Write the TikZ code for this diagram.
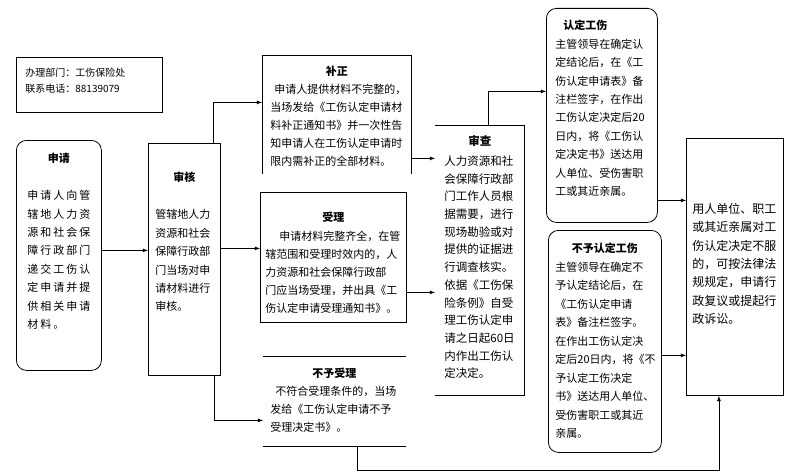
\documentclass[tikz,border=0pt]{standalone}
\usepackage{fontspec}
\usepackage{tikz}
\usetikzlibrary{arrows}
\newfontfamily\cjk{Noto Sans CJK SC}
\newcommand{\boxtext}[4]{\parbox[c][#2][t]{#1}{\raggedright\vspace*{#3}#4}}
\newcommand{\boxtitle}[1]{\makebox[\linewidth]{\bfseries #1}}

\tikzset{
  flowbox/.style={draw, line width=0.8pt, inner ysep=0pt, inner xsep=6pt, anchor=north west,
    font=\cjk\fontsize{11}{18.4}\selectfont},
  roundbox/.style={flowbox, rounded corners=10pt},
  openbox/.style={flowbox, draw=none},
  arr/.style={-latex, line width=0.8pt},
}

\begin{document}
\begin{tikzpicture}[x=1pt,y=-1pt]
\useasboundingbox (0,0) rectangle (800,476);
% \draw[densely dotted] (0,0) grid[step=50] (800,476);
\node[flowbox, inner xsep=9pt, font=\cjk\fontsize{10}{16}\selectfont] (office) at (16,57)
  {\boxtext{128pt}{55pt}{11pt}{办理部门：工伤保险处\\联系电话：88139079}};
\node[roundbox, inner xsep=11pt] (shenqing) at (16,140)
  {\boxtext{63pt}{230pt}{13pt}{\boxtitle{申请}\\[18.5pt]\addfontfeature{LetterSpace=18}%
  申请人向管\\辖地人力资\\源和社会保\\障行政部门\\递交工伤认\\定申请并提\\供相关申请\\材料。}};
\node[flowbox, inner xsep=7pt] (shenhe) at (148,143)
  {\boxtext{58pt}{232pt}{29pt}{\boxtitle{审核}\\[18.5pt]%
  管辖地人力\\资源和社会\\保障行政部\\门当场对申\\请材料进行\\审核。}};
\node[openbox, inner xsep=8pt, font=\cjk\fontsize{11}{18}\selectfont] (buzheng) at (262,55)
  {\boxtext{133pt}{118pt}{11pt}{\boxtitle{补正}\\\hspace*{4pt}申请人提供材料不完整的，\\当场发给《工伤认定申请材\\料补正通知书》并一次性告\\知申请人在工伤认定申请时\\限内需补正的全部材料。}};
\node[flowbox, inner xsep=5pt, font=\cjk\fontsize{11}{18.2}\selectfont] (shouli) at (260,192)
  {\boxtext{136pt}{130pt}{20pt}{\boxtitle{受理}\\\hspace*{14pt}申请材料完整齐全，在管\\辖范围和受理时效内的，人\\力资源和社会保障行政部\\门应当场受理，并出具《工\\伤认定申请受理通知书》。}};
\node[openbox, inner xsep=7pt, font=\cjk\fontsize{11}{18}\selectfont] (buyushouli) at (263,356)
  {\boxtext{128pt}{90pt}{12pt}{\boxtitle{不予受理}\\\hspace*{5pt}不符合受理条件的，当场\\发给《工伤认定申请不予\\受理决定书》。}};
\node[openbox, inner xsep=9pt, font=\cjk\fontsize{11.5}{17.7}\selectfont] (shencha) at (435,125)
  {\boxtext{71pt}{270pt}{10pt}{\boxtitle{审查}\\[2.3pt]人力资源和社\\会保障行政部\\门工作人员根\\据需要，进行\\现场勘验或对\\提供的证据进\\行调查核实。\\依据《工伤保\\险条例》自受\\理工伤认定申\\请之日起60日\\内作出工伤认\\定决定。}};
\node[roundbox, inner xsep=9pt] (rending) at (546,8)
  {\boxtext{93pt}{214pt}{12pt}{\hspace*{8pt}\textbf{认定工伤}\\主管领导在确定认\\定结论后，在《工\\伤认定申请表》备\\注栏签字，在作出\\工伤认定决定后20\\日内，将《工伤认\\定决定书》送达用\\人单位、受伤害职\\工或其近亲属。}};
\node[roundbox, inner xsep=7pt, font=\cjk\fontsize{11}{18.5}\selectfont] (buyurending) at (548,230)
  {\boxtext{99pt}{222pt}{13pt}{\boxtitle{不予认定工伤}\\主管领导在确定不\\予认定结论后，在\\《工伤认定申请\\表》备注栏签字。\\在作出工伤认定决\\定后20日内，将《不\\予认定工伤决定\\书》送达用人单位、\\受伤害职工或其近\\亲属。}};
\node[flowbox, inner xsep=6pt, font=\cjk\fontsize{12}{18.3}\selectfont] (fuyi) at (686,138)
  {\boxtext{85pt}{257pt}{65pt}{用人单位、职工\\或其近亲属对工\\伤认定决定不服\\的，可按法律法\\规规定，申请行\\政复议或提起行\\政诉讼。}};
% open sides
\draw[line width=0.8pt] (buzheng.south west) -- (buzheng.north west) -- (buzheng.north east) -- (buzheng.south east);
\draw[line width=0.8pt] (buyushouli.north west) -- (buyushouli.north east);
\draw[line width=0.8pt] (buyushouli.south west) -- (buyushouli.south east);
\draw[line width=0.8pt] (shencha.north west) -- (shencha.north east) -- (shencha.south east) -- (shencha.south west);
% connectors
\draw[arr] ([yshift=5pt]shenqing.east) -- ([yshift=5pt]shenqing.east -| shenhe.west);
\draw[arr] ([xshift=29pt]shenhe.north) |- ([yshift=12pt]buzheng.west);
\draw[arr] ([yshift=9pt]shouli.west -| shenhe.east) -- ([yshift=9pt]shouli.west);
\draw[arr] ([xshift=30pt]shenhe.south) |- ([yshift=-19pt]buyushouli.west);
\draw[arr] ([yshift=-44pt]buzheng.east) -- ([yshift=-44pt]buzheng.east -| shencha.west);
\draw[arr] ([yshift=-35pt]shouli.east) -- ([yshift=-35pt]shouli.east -| shencha.west);
\draw[arr] ([xshift=8pt]shencha.north) |- ([yshift=24pt]rending.west);
\draw[arr] ([yshift=-85pt]rending.east) -- ([yshift=-85pt]rending.east -| fuyi.west);
\draw[arr] ([yshift=-14pt]buyurending.east) -- ([yshift=-14pt]buyurending.east -| fuyi.west);
\draw[arr] ([xshift=23pt]buyushouli.south) -- ++(0,24) -| ([xshift=-16pt]fuyi.south);
\end{tikzpicture}
\end{document}
